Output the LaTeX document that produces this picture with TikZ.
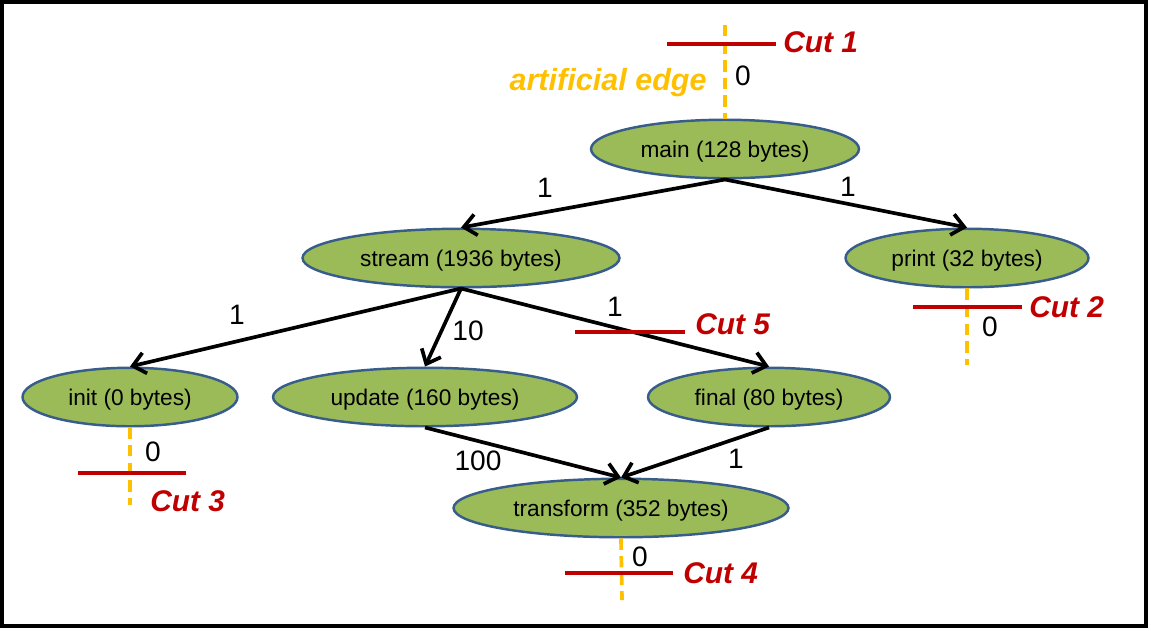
\documentclass[tikz,border=0pt]{standalone}
\usepackage{fontspec}
\setmainfont{Liberation Sans}
\usepackage{xcolor}
\usetikzlibrary{arrows.meta}
\usetikzlibrary{shapes.geometric, calc}
\definecolor{fngreen}{HTML}{9BBB59}
\definecolor{fnblue}{HTML}{385D8A}
\definecolor{cutred}{HTML}{C00000}
\definecolor{artorange}{HTML}{FFC000}

\begin{document}
\begin{tikzpicture}[x=0.02cm, y=-0.02cm,
    func/.style={ellipse, draw=fnblue, line width=1.4pt, fill=fngreen, inner sep=0pt, text depth=0pt,
                 minimum height=1.17cm, font=\fontsize{12.9}{15}\selectfont},
    call/.style={line width=2.1pt, -{Straight Barb[length=7pt,width=12pt]}},
    weight/.style={inner sep=0pt, font=\fontsize{16}{18}\selectfont},
    cutline/.style={cutred, line width=2.1pt},
    cutlabel/.style={cutred, inner sep=0pt, anchor=west, font=\fontsize{17}{19}\bfseries\itshape\selectfont},
    artedge/.style={artorange, line width=2.1pt, dash pattern=on 6.5pt off 3.5pt}]
                \useasboundingbox (0,0) rectangle (1151,630);
                % frame
                \draw[line width=2.8pt] (2,2) rectangle (1146,626);

                % functions
                \node[func, minimum width=5.36cm] (main) at (725,149) {main (128 bytes)};
                \node[func, minimum width=6.34cm] (stream) at (461,258) {stream (1936 bytes)};
                \node[func, minimum width=4.86cm] (print) at (967,258) {print (32 bytes)};
                \node[func, minimum width=4.30cm] (init) at (130,397) {init (0 bytes)};
                \node[func, minimum width=6.08cm] (update) at (425,397) {update (160 bytes)};
                \node[func, minimum width=4.84cm] (final) at (769,397) {final (80 bytes)};
                \node[func, minimum width=6.70cm] (transform) at (621,508) {transform (352 bytes)};

                % calls
                \draw[call] (main.south) -- (stream.north);
                \draw[call] (main.south) -- (print.north);
                \draw[call] (stream.south) -- (init.north);
                \draw[call] (stream.south) -- (update.north);
                \draw[call] (stream.south) -- (final.north);
                \draw[call] (update.south) -- (transform.north);
                \draw[call] (final.south) -- (transform.north);

                % call counts
                \node[weight] (w1) at (545,188) {1};
                \node[weight] (w2) at (848,187) {1};
                \node[weight] (w3) at (237,315) {1};
                \node[weight] (w4) at (468,331) {10};
                \node[weight] (w5) at (615,307) {1};
                \node[weight] (w6) at (478,461) {100};
                \node[weight] (w7) at (736,459) {1};

                % artificial edges
                \coordinate (top) at (725,25);
                \coordinate (end2) at (967,365);
                \coordinate (end3) at (130,505);
                \coordinate (end4) at (622,600);
                \draw[artedge] (top) -- (main.north);
                \draw[artedge] (print.south) -- (end2);
                \draw[artedge] (init.south) -- (end3);
                \draw[artedge] (transform.south) -- (end4);
                \node[artorange, inner sep=0pt, anchor=east, font=\fontsize{17.4}{19}\bfseries\itshape\selectfont]
                    (artlabel) at (707,83) {artificial edge};
                \node[weight] (z1) at (743,76) {0};
                \node[weight] (z2) at (990,327) {0};
                \node[weight] (z3) at (153,452) {0};
                \node[weight] (z4) at (640,557) {0};

                % cuts
                \draw[cutline] (667,44) -- (776,44);
                \draw[cutline] (913,307) -- (1022,307);
                \draw[cutline] (78,473) -- (186,473);
                \draw[cutline] (565,573) -- (673,573);
                \draw[cutline] (575,332) -- (685,332);
                \node[cutlabel] (cut1) at (783,42) {Cut 1};
                \node[cutlabel] (cut2) at (1029,307) {Cut 2};
                \node[cutlabel] (cut3) at (150,501) {Cut 3};
                \node[cutlabel] (cut4) at (683,573) {Cut 4};
                \node[cutlabel] (cut5) at (695,324) {Cut 5};
            \end{tikzpicture}
\end{document}
